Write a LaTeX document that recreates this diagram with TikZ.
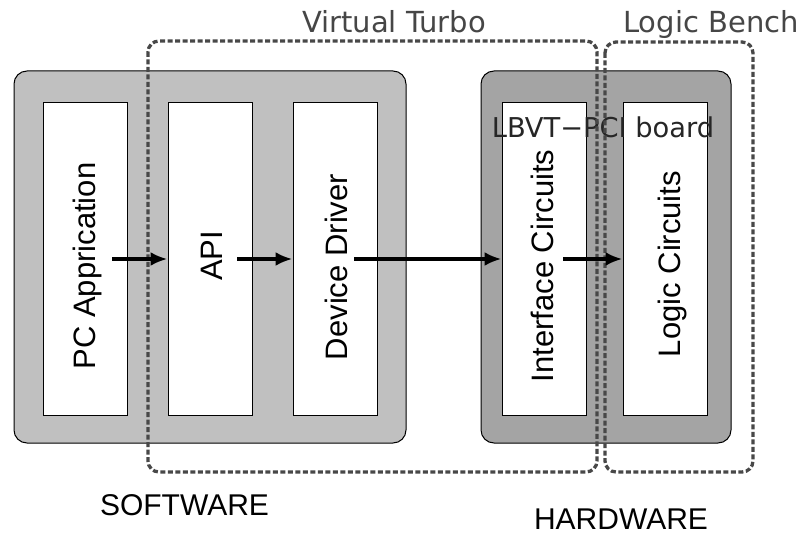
\documentclass[tikz,border=0pt]{standalone}
\usepackage{fontspec}
\setmainfont{Liberation Sans}
\newfontfamily\djv{DejaVu Sans}
\usetikzlibrary{arrows.meta}
\definecolor{swgray}{RGB}{192,192,192}
\definecolor{hwgray}{RGB}{164,164,164}
\definecolor{dashgray}{RGB}{72,72,72}
\definecolor{titlegray}{RGB}{70,70,70}
\begin{document}
\begin{tikzpicture}[x=1pt,y=-1pt,
 panel/.style={draw=black,line width=1pt,rounded corners=13pt},
 unit/.style={draw=black,fill=white,line width=1pt,minimum width=84pt,minimum height=312pt,inner sep=0pt},
 lbl/.style={rotate=90,anchor=base,inner sep=0pt,font=\fontsize{31}{31}\selectfont},
 group/.style={draw=dashgray,line width=3.3pt,dash pattern=on 5pt off 2.5pt,rounded corners=11pt},
 flow/.style={line width=4.5pt,-{Latex[length=17pt,width=14pt]}},
 title/.style={anchor=base,inner sep=0pt,text=titlegray,font=\djv\fontsize{29}{29}\selectfont},
 side/.style={anchor=base,inner sep=0pt,text depth=0pt,font=\fontsize{30}{30}\selectfont}]
\useasboundingbox (0,0) rectangle (802,534);
\fill[white] (0,0) rectangle (802,534);
% panels
\draw[panel,fill=swgray] (14,71) rectangle (406,443);
\draw[panel,fill=hwgray] (481,71) rectangle (731,443);
% units
\node[unit] (pc)  at (85,259) {};
\node[unit] (api) at (210,259) {};
\node[unit] (dd)  at (335,259) {};
\node[unit] (ic)  at (544,259) {};
\node[unit] (lc)  at (665,259) {};
% labels
\node[lbl] (pct) at (95,266) {PC Apprication};
\node[lbl] (apit) at (222,256) {API};
\node[lbl] (ddt) at (347,267) {Device Driver};
\node[lbl] (ict) at (553,266) {Interface Circuits};
\node[lbl] (lct) at (680,264) {Logic Circuits};
\node[anchor=base,inner sep=0pt,font=\djv\fontsize{27.3}{27.3}\selectfont,text=black!85] (board) at (603,138) {LBVT−PCI board};
% titles
\node[title] (vt) at (394,33) {Virtual Turbo};
\node[title] (lb) at (711,33) {Logic Bench};
\node[side] (sw) at (184.5,515) {SOFTWARE};
\node[side] (hw) at (621,529) {HARDWARE};
% groups
\draw[group] (148,41) rectangle (597,472);
\draw[group] (605,42) rectangle (753,472);
% arrows
\coordinate (s1) at (112,259);
\coordinate (s2) at (237,259);
\coordinate (s3) at (354,259);
\coordinate (s4) at (563,259);
\draw[flow] (s1) -- (api.west);
\draw[flow] (s2) -- (dd.west);
\draw[flow] (s3) -- (ic.west);
\draw[flow] (s4) -- (lc.west);
\end{tikzpicture}
\end{document}
